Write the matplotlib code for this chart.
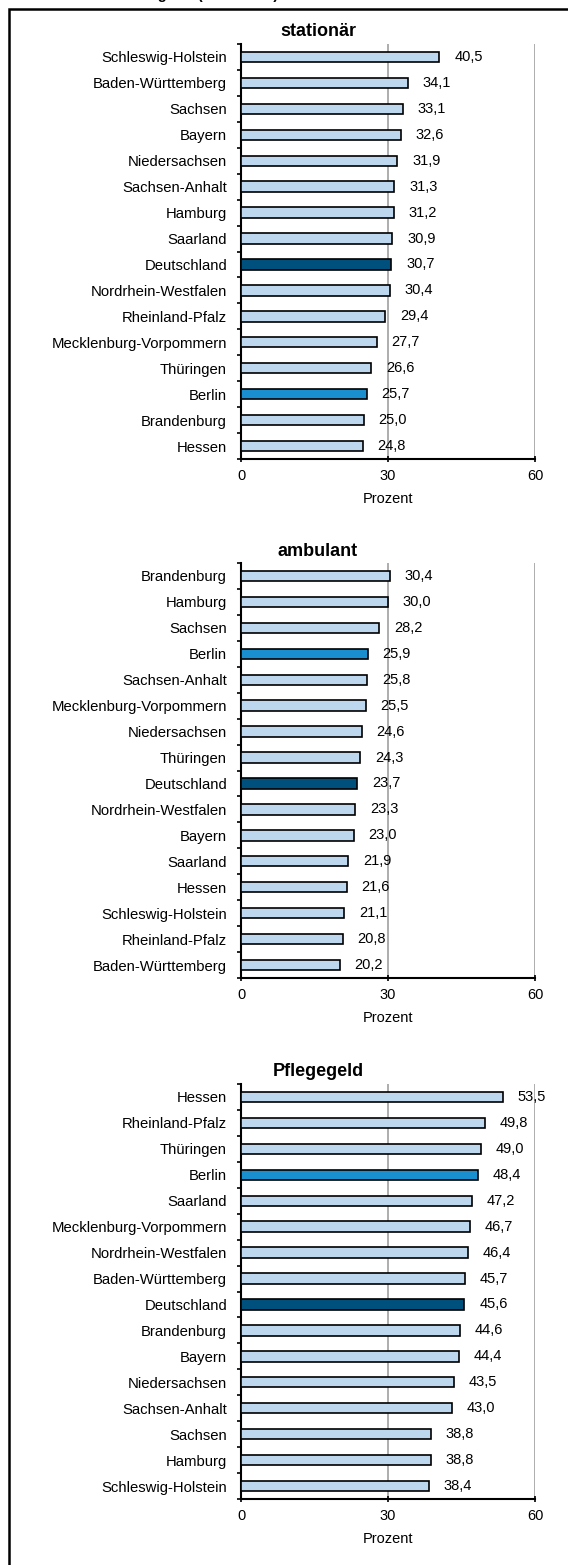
import matplotlib.pyplot as plt
from matplotlib.patches import Rectangle

plt.rcParams['font.family'] = ['Liberation Sans', 'DejaVu Sans']

# Werte je Leistungsart (Prozent), von oben nach unten
stat_laender = ['Schleswig-Holstein', 'Baden-Württemberg', 'Sachsen', 'Bayern',
                'Niedersachsen', 'Sachsen-Anhalt', 'Hamburg', 'Saarland',
                'Deutschland', 'Nordrhein-Westfalen', 'Rheinland-Pfalz',
                'Mecklenburg-Vorpommern', 'Thüringen', 'Berlin', 'Brandenburg', 'Hessen']
stat_werte = [40.5, 34.1, 33.1, 32.6, 31.9, 31.3, 31.2, 30.9,
              30.7, 30.4, 29.4, 27.7, 26.6, 25.7, 25.0, 24.8]

amb_laender = ['Brandenburg', 'Hamburg', 'Sachsen', 'Berlin', 'Sachsen-Anhalt',
               'Mecklenburg-Vorpommern', 'Niedersachsen', 'Thüringen', 'Deutschland',
               'Nordrhein-Westfalen', 'Bayern', 'Saarland', 'Hessen',
               'Schleswig-Holstein', 'Rheinland-Pfalz', 'Baden-Württemberg']
amb_werte = [30.4, 30.0, 28.2, 25.9, 25.8, 25.5, 24.6, 24.3,
             23.7, 23.3, 23.0, 21.9, 21.6, 21.1, 20.8, 20.2]

pg_laender = ['Hessen', 'Rheinland-Pfalz', 'Thüringen', 'Berlin', 'Saarland',
              'Mecklenburg-Vorpommern', 'Nordrhein-Westfalen', 'Baden-Württemberg',
              'Deutschland', 'Brandenburg', 'Bayern', 'Niedersachsen',
              'Sachsen-Anhalt', 'Sachsen', 'Hamburg', 'Schleswig-Holstein']
pg_werte = [53.5, 49.8, 49.0, 48.4, 47.2, 46.7, 46.4, 45.7,
            45.6, 44.6, 44.4, 43.5, 43.0, 38.8, 38.8, 38.4]

titel = ['stationär', 'ambulant', 'Pflegegeld']
x_ticks = [0, 30, 60]

c_hell = '#bdd7ee'
c_de = '#00507d'
c_be = '#1a8fd0'

W, H = 568, 1565
fig = plt.figure(figsize=(W / 100, H / 100), dpi=100)

# Rahmen (rechts und unten abgeschnitten)
fig.patches.append(Rectangle((9 / W, -0.1), 1.2, 1 - 9.5 / H + 0.1,
                             transform=fig.transFigure, fill=False,
                             edgecolor='black', linewidth=1.8))
# Ueberschrift oben, im Original fast ganz abgeschnitten
fig.text(278 / W, 1 + 1.0 / H, 'Anteil nach Leistungsart (in Prozent)',
         ha='right', va='baseline', fontsize=10.5, fontweight='bold')

left, width = 241 / W, 294 / W
tops = [44, 563, 1084]
panel_h = 415

panels = [(stat_laender, stat_werte), (amb_laender, amb_werte), (pg_laender, pg_werte)]
for i, (laender, werte) in enumerate(panels):
    top = tops[i]
    ax = fig.add_axes([left, 1 - (top + panel_h) / H, width, panel_h / H])
    n = len(laender)
    ypos = list(range(n))[::-1]
    farben = [c_de if l == 'Deutschland' else c_be if l == 'Berlin' else c_hell
              for l in laender]
    ax.barh(ypos, werte, height=0.4, color=farben, edgecolor='black',
            linewidth=1.2, zorder=3)
    for y, v in zip(ypos, werte):
        ax.text(v + 3.0, y, f'{v:.1f}'.replace('.', ','), va='center', ha='left',
                fontsize=10.5, clip_on=False, zorder=4)
    ax.set_xlim(0, 60)
    ax.set_ylim(-0.5, n - 0.5)
    ax.set_xticks(x_ticks)
    ax.set_yticks([y - 0.5 for y in range(n + 1)], minor=False)
    ax.set_yticklabels([])
    ax.set_yticks(ypos, minor=True)
    ax.set_yticklabels(laender, minor=True)
    ax.tick_params(axis='y', which='major', direction='out', length=3, width=1.2)
    ax.tick_params(axis='y', which='minor', length=0, pad=10, labelsize=10.7)
    ax.tick_params(axis='x', direction='inout', length=5, width=1.2, pad=5, labelsize=10.5)
    for s in ['top', 'right']:
        ax.spines[s].set_visible(False)
    ax.spines['left'].set_linewidth(1.5)
    ax.spines['bottom'].set_linewidth(1.5)
    ax.grid(axis='x', color='#a0a0a0', linewidth=1.2, zorder=0)
    ax.set_axisbelow(True)
    ax.set_xlabel('Prozent', fontsize=10.5, labelpad=6)
    fig.text(318 / W, 1 - (top - 12) / H, titel[i], ha='center', va='center',
             fontsize=13, fontweight='bold')

fig.savefig('out.png', dpi=100)
